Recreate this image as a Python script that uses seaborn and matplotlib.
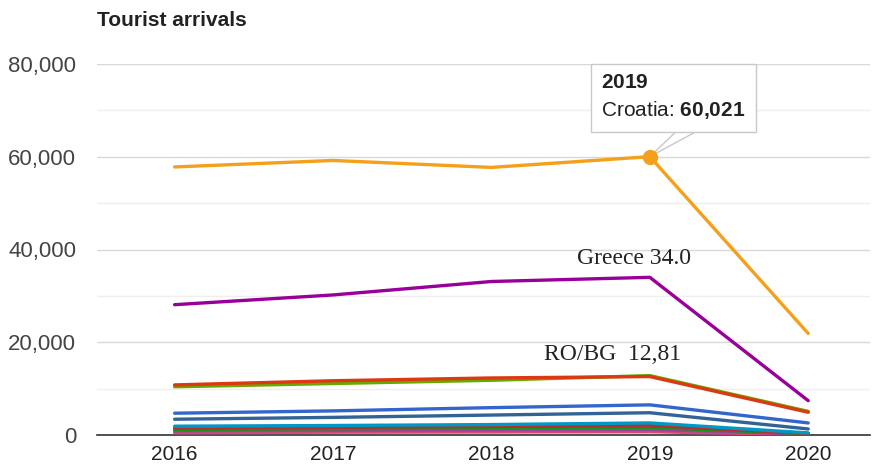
import pandas as pd
import matplotlib
matplotlib.use("Agg")
import matplotlib.pyplot as plt
from matplotlib.ticker import FuncFormatter, MultipleLocator
import seaborn as sns

# data
years = [2016, 2017, 2018, 2019, 2020]
countries = ["Montenegro", "Moldova", "Kosovo", "Albania", "Serbia",
             "N. Macedonia", "Slovenia", "Bulgaria", "Romania", "Greece", "Croatia"]
values = {
    "Montenegro": [500, 600, 650, 700, 120],
    "Moldova": [900, 1000, 1100, 1200, 200],
    "Kosovo": [1200, 1350, 1500, 1650, 300],
    "Albania": [1500, 1650, 1850, 2050, 350],
    "Serbia": [1900, 2050, 2250, 2600, 450],
    "N. Macedonia": [3400, 3800, 4300, 4800, 1300],
    "Slovenia": [4700, 5200, 5900, 6500, 2600],
    "Bulgaria": [10400, 11100, 11800, 12810, 5100],
    "Romania": [10800, 11700, 12300, 12600, 4900],
    "Greece": [28100, 30200, 33100, 34000, 7400],
    "Croatia": [57800, 59200, 57700, 60021, 21900],
}
colors = ["#dd4477", "#994499", "#109618", "#b82e2e", "#0099c6",
          "#316395", "#3366cc", "#66aa00", "#dc3912", "#990099", "#f5a01a"]
y_ticks = [0, 20000, 40000, 60000, 80000]

df = pd.DataFrame([
    {"country": c, "year": y, "arrivals": v}
    for c in countries for y, v in zip(years, values[c])
])

sns.set_style("white")
plt.rcParams["font.family"] = ["Liberation Sans", "DejaVu Sans"]
plt.rcParams["mathtext.fontset"] = "custom"
plt.rcParams["mathtext.rm"] = "Liberation Sans"
plt.rcParams["mathtext.bf"] = "Liberation Sans:bold"

fig = plt.figure(figsize=(8.8, 4.66), dpi=100)
ax = fig.add_axes([97 / 880, 31 / 466, 773 / 880, 371 / 466])

sns.lineplot(data=df, x="year", y="arrivals", hue="country",
             palette=dict(zip(countries, colors)), linewidth=2.4,
             legend=False, ax=ax, zorder=3)

# highlighted point + tooltip
sx, sy = years[3], values["Croatia"][3]
ax.plot([sx], [sy], "o", color=colors[-1], markersize=10, zorder=5)
ax.annotate("$\\mathbf{2019}$\nCroatia: $\\mathbf{60{,}021}$",
            xy=(sx, sy), xytext=(-35, 60), textcoords="offset points",
            ha="left", va="top", fontsize=15, color="#222222", linespacing=1.4,
            bbox=dict(boxstyle="square,pad=0.5", fc="white", ec="#c8c8c8", lw=1),
            zorder=6)
# thin pointer from the box down to the point
for dx in (21, 37):
    ax.annotate("", xy=(sx, sy), xytext=(dx, 20), textcoords="offset points",
                arrowprops=dict(arrowstyle="-", color="#c8c8c8", lw=1,
                                shrinkA=0, shrinkB=3), zorder=4)

# serif labels
ax.text(years[3] + 0.26, values["Greece"][3] + 1700, "Greece 34.0", ha="right",
        va="bottom", fontsize=17, family="Liberation Serif", color="#222222")
ax.text(years[3] + 0.2, values["Bulgaria"][3] + 2300, "RO/BG  12,81", ha="right",
        va="bottom", fontsize=17, family="Liberation Serif", color="#222222")

ax.set_xlim(2015.51, 2020.39)
ax.set_ylim(0, 80000)
ax.set_xticks(years)
ax.set_yticks(y_ticks)
ax.yaxis.set_minor_locator(MultipleLocator(10000))
ax.yaxis.set_major_formatter(FuncFormatter(lambda v, p: f"{int(v):,}"))
ax.grid(axis="y", which="major", color="#d9d9d9", lw=1, zorder=0)
ax.grid(axis="y", which="minor", color="#efefef", lw=1, zorder=0)
ax.tick_params(axis="y", length=0, pad=15, labelsize=16, labelcolor="#444444")
ax.tick_params(axis="x", length=0, pad=7, labelsize=15, labelcolor="#222222")
ax.set_xlabel("")
ax.set_ylabel("")
for s in ["top", "right", "left"]:
    ax.spines[s].set_visible(False)
ax.spines["bottom"].set_color("#333333")
ax.spines["bottom"].set_linewidth(1.2)

fig.text(97 / 880, 1 - 20 / 466, "Tourist arrivals", fontsize=15,
         fontweight="bold", color="#222222", va="center", ha="left")

fig.savefig("out.png", dpi=100)
